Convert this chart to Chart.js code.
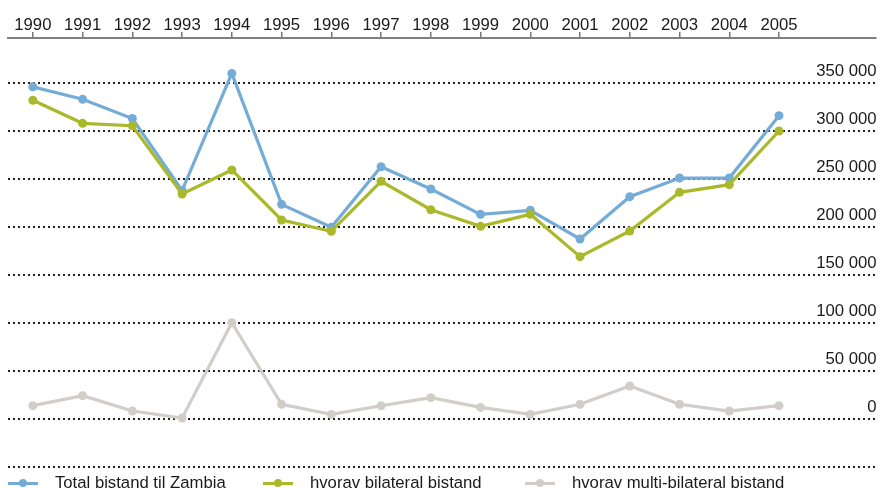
<!DOCTYPE html>
<html>
<head>
<meta charset="utf-8">
<script src="https://cdn.jsdelivr.net/npm/chart.js@4"></script>
<style>
  body { margin: 0; background: #fff; }
  #wrap { position: relative; width: 880px; height: 491px; }
  .leg { position: absolute; top: 473px; height: 20px; display: flex; align-items: center;
         font: 16.7px "Liberation Sans", Arial, sans-serif; color: #1a1a1a; }
  .mk { position: relative; width: 30px; height: 3px; margin-right: 17px; }
  .mk i { position: absolute; left: 11px; top: -3px; width: 8px; height: 8px; border-radius: 50%; }
</style>
</head>
<body>
<div id="wrap">
  <canvas id="chart" width="880" height="491"></canvas>
  <div class="leg" style="left:8px"><span class="mk" style="background:#75acd7"><i style="background:#75acd7"></i></span>Total bistand til Zambia</div>
  <div class="leg" style="left:263px"><span class="mk" style="background:#a9b92b"><i style="background:#a9b92b"></i></span>hvorav bilateral bistand</div>
  <div class="leg" style="left:525px"><span class="mk" style="background:#d1cec8"><i style="background:#d1cec8"></i></span>hvorav multi-bilateral bistand</div>
</div>
<script>
const years = [1990, 1991, 1992, 1993, 1994, 1995, 1996, 1997, 1998, 1999, 2000, 2001, 2002, 2003, 2004, 2005];
const total = [346000, 333000, 313000, 238000, 360000, 223600, 199700, 262800, 239600, 213200, 217400, 187500, 231600, 251000, 251000, 316000];
const bilateral = [332000, 308000, 305500, 234400, 259400, 207300, 195500, 247600, 218000, 200700, 213200, 169100, 195800, 236100, 244100, 300000];
const multiBilateral = [13900, 24300, 8300, 1000, 100300, 15300, 4800, 13800, 22200, 12100, 4800, 15300, 34400, 15300, 8300, 13900];
const yTicks = [-50000, 0, 50000, 100000, 150000, 200000, 250000, 300000, 350000];

const FONT = '"Liberation Sans", Arial, sans-serif';

function series(label, values, color) {
  return {
    label: label,
    data: years.map((y, i) => ({ x: y, y: values[i] })),
    borderColor: color,
    backgroundColor: color,
    pointBackgroundColor: color,
    pointBorderWidth: 0,
    pointRadius: 4.5,
    borderWidth: 3.2,
    tension: 0
  };
}

function fmt(v) {
  return String(v).replace(/\B(?=(\d{3})+(?!\d))/g, ' ');
}

new Chart(document.getElementById('chart'), {
  type: 'line',
  data: {
    datasets: [
      series('hvorav multi-bilateral bistand', multiBilateral, '#d1cec8'),
      series('hvorav bilateral bistand', bilateral, '#a9b92b'),
      series('Total bistand til Zambia', total, '#75acd7')
    ]
  },
  options: {
    responsive: false,
    animation: false,
    devicePixelRatio: 1,
    layout: { padding: { left: 8, right: 0, top: 0, bottom: 24 } },
    plugins: { legend: { display: false }, tooltip: { enabled: false } },
    scales: {
      x: {
        type: 'linear',
        position: 'top',
        min: 1989.5,
        max: 2006.94,
        afterBuildTicks: s => { s.ticks = years.map(v => ({ value: v })); },
        afterFit: s => { s.height = 38; },
        ticks: {
          font: { family: FONT, size: 16.7 },
          color: '#1a1a1a',
          padding: -3,
          maxRotation: 0,
          autoSkip: false,
          callback: v => String(v)
        },
        grid: { drawOnChartArea: false, tickLength: 6, color: '#777', lineWidth: 1.5 },
        border: { display: true, color: '#808080', width: 2 }
      },
      y: {
        type: 'linear',
        position: 'right',
        min: -50000,
        max: 396875,
        afterBuildTicks: s => { s.ticks = yTicks.map(v => ({ value: v })); },
        afterFit: s => { s.width = 0; },
        ticks: {
          mirror: true,
          padding: 1,
          labelOffset: -12,
          font: { family: FONT, size: 16.7 },
          color: '#1a1a1a',
          callback: v => (v < 0 ? '' : fmt(v))
        },
        grid: { drawTicks: false, color: '#222', lineWidth: 2 },
        border: { display: false, dash: [2, 3] }
      }
    }
  }
});
</script>
</body>
</html>
